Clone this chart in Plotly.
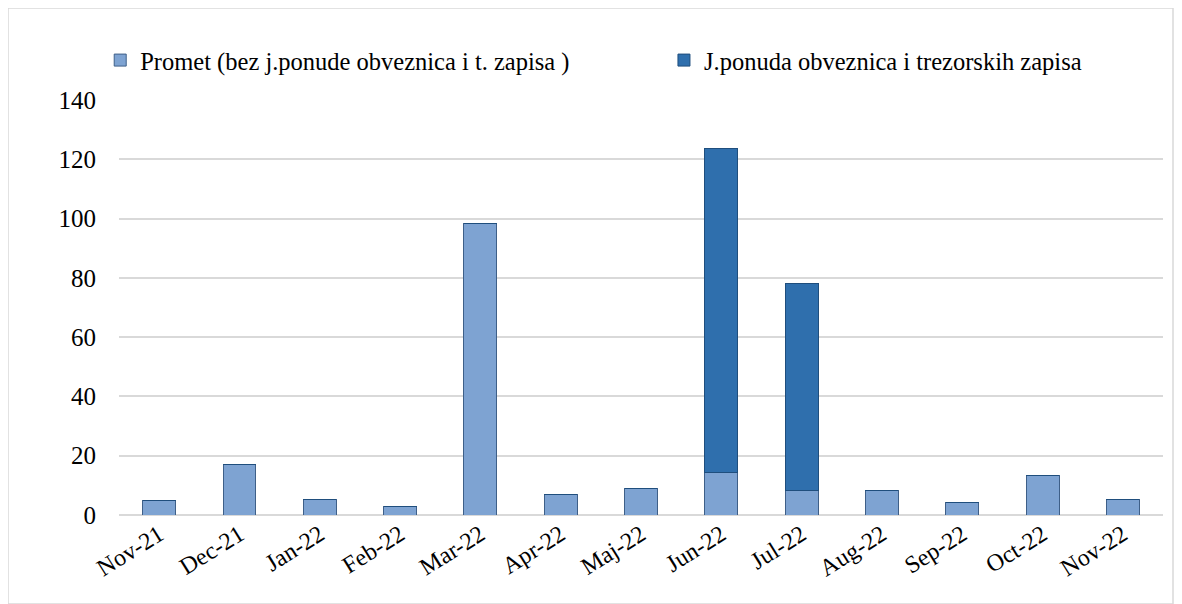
import plotly.graph_objects as go

# Months on the x axis
months = ['Nov-21', 'Dec-21', 'Jan-22', 'Feb-22', 'Mar-22', 'Apr-22', 'Maj-22',
          'Jun-22', 'Jul-22', 'Aug-22', 'Sep-22', 'Oct-22', 'Nov-22']

# Turnover without public offering of bonds and T-bills
promet = [5, 17, 5.3, 2.8, 98.2, 7, 9, 14.3, 8.2, 8.3, 4.2, 13.2, 5.2]

# Public offering of bonds and treasury bills
j_ponuda = [0, 0, 0, 0, 0, 0, 0, 109.5, 69.8, 0, 0, 0, 0]

serif = 'Liberation Serif'

fig = go.Figure()

# Lower part of the stack
fig.add_trace(go.Bar(x=months,
                     y=promet,
                     name='Promet (bez j.ponude obveznica i t. zapisa )',
                     legend='legend',
                     marker=dict(color='#7EA3D2',
                                 line=dict(color='#3E5F88', width=1))))

# Upper part of the stack
fig.add_trace(go.Bar(x=months,
                     y=j_ponuda,
                     name='J.ponuda obveznica i trezorskih zapisa',
                     legend='legend2',
                     marker=dict(color='#2F6FAD',
                                 line=dict(color='#1F4E7D', width=1))))

legend_style = dict(orientation='h',
                    xanchor='left',
                    y=1.096, yanchor='middle',
                    bgcolor='rgba(0,0,0,0)',
                    font=dict(family=serif, size=24.5, color='#000000'),
                    itemwidth=30)

# Page body adds 8px around the figure
fig.update_layout(barmode='stack',
                  bargap=0.59,
                  width=1174,
                  height=596,
                  margin=dict(l=111, r=19, t=92, b=89),
                  paper_bgcolor='white',
                  plot_bgcolor='white',
                  font=dict(family=serif, size=25, color='#000000'),
                  showlegend=True,
                  legend=dict(legend_style, x=-0.018),
                  legend2=dict(legend_style, x=0.522),
                  xaxis=dict(tickangle=-32,
                             tickfont=dict(family=serif, size=24),
                             showgrid=False,
                             showline=False,
                             ticks=''),
                  yaxis=dict(range=[0, 140],
                             dtick=20,
                             showgrid=True,
                             gridcolor='#D9D9D9',
                             gridwidth=1.5,
                             zeroline=True,
                             zerolinecolor='#D9D9D9',
                             zerolinewidth=1.5,
                             ticks='',
                             ticklabelstandoff=22,
                             tickfont=dict(family=serif, size=25)))

# Light frame around the whole chart
fig.add_shape(type='rect', xref='paper', yref='paper',
              x0=-111/1044, x1=1 + 10/1044, y0=-89/415, y1=1 + 92/415,
              line=dict(color='#D9D9D9', width=1.5))

fig.write_html("out.html")
